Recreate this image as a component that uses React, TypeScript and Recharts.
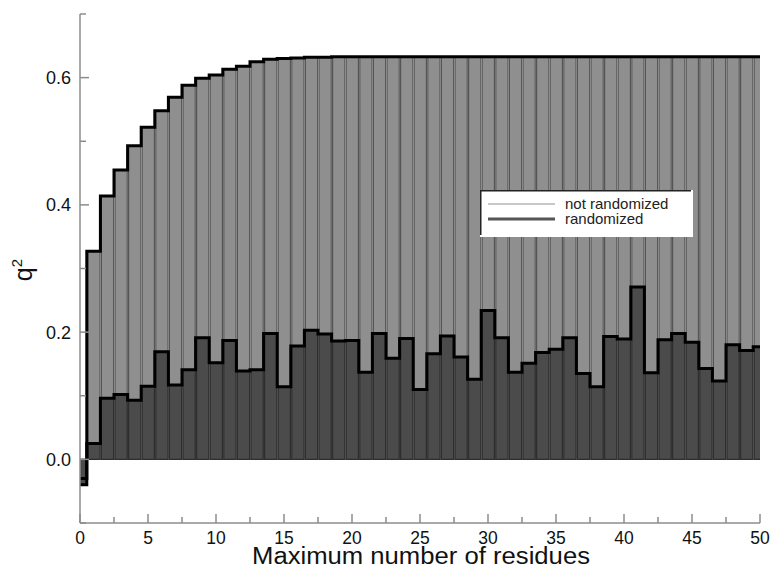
import React from 'react';
import { ComposedChart, Bar, Line, XAxis, YAxis, Legend, Label } from 'recharts';

const residues = [0,1,2,3,4,5,6,7,8,9,10,11,12,13,14,15,16,17,18,19,20,21,22,23,24,25,26,27,28,29,30,31,32,33,34,35,36,37,38,39,40,41,42,43,44,45,46,47,48,49,50];
const notRandomized = [-0.03,0.327,0.414,0.455,0.493,0.522,0.548,0.569,0.588,0.599,0.604,0.613,0.618,0.625,0.629,0.630,0.631,0.632,0.632,0.633,0.633,0.633,0.633,0.633,0.633,0.633,0.633,0.633,0.633,0.633,0.633,0.633,0.633,0.633,0.633,0.633,0.633,0.633,0.633,0.633,0.633,0.633,0.633,0.633,0.633,0.633,0.633,0.633,0.633,0.633,0.633];
const randomized = [-0.04,0.025,0.096,0.102,0.093,0.115,0.169,0.117,0.141,0.191,0.152,0.187,0.139,0.141,0.198,0.114,0.178,0.203,0.197,0.186,0.187,0.137,0.198,0.159,0.190,0.110,0.166,0.194,0.161,0.126,0.234,0.191,0.137,0.151,0.168,0.173,0.191,0.135,0.114,0.193,0.189,0.271,0.136,0.188,0.198,0.184,0.143,0.123,0.180,0.171,0.177];
const xTicks = [0,2.5,5,7.5,10,12.5,15,17.5,20,22.5,25,27.5,30,32.5,35,37.5,40,42.5,45,47.5,50];
const yTicks = [-0.1,0,0.1,0.2,0.3,0.4,0.5,0.6,0.7];
const seriesNames = ['not randomized', 'randomized'];
const xTitle = 'Maximum number of residues';

const data = residues.map((x, i) => ({ x, nr: notRandomized[i], r: randomized[i] }));

const AXIS = '#8c8c8c';
const FONT = 'Liberation Sans, Arial, sans-serif';

const isMajorX = (v: number) => Math.abs(v % 5) < 1e-6;
const isMajorY = (v: number) => Math.round(v * 10) % 2 === 0;

const BottomTick = (p: any) => {
  const v = p.payload.value;
  const major = isMajorX(v);
  return (
    <g>
      <line x1={p.x} x2={p.x} y1={p.y} y2={p.y - (major ? 9 : 6)} stroke={AXIS} strokeWidth={1.5} />
      {major && (
        <text x={p.x} y={p.y + 21} textAnchor="middle" fontFamily={FONT} fontSize={17.5} fill="#111">{v}</text>
      )}
    </g>
  );
};
const TopTick = (p: any) => {
  const v = p.payload.value;
  const major = isMajorX(v);
  return <line x1={p.x} x2={p.x} y1={p.y} y2={p.y + (major ? 9 : 6)} stroke={AXIS} strokeWidth={1.5} />;
};
const LeftTick = (p: any) => {
  const v = p.payload.value;
  const major = isMajorY(v);
  return (
    <g>
      <line x1={p.x} x2={p.x + (major ? 9 : 6)} y1={p.y} y2={p.y} stroke={AXIS} strokeWidth={1.5} />
      {major && v >= 0 && v < 0.65 && (
        <text x={p.x - 9} y={p.y + 6.5} textAnchor="end" fontFamily={FONT} fontSize={18} fill="#111">{v.toFixed(1)}</text>
      )}
    </g>
  );
};
const RightTick = (p: any) => {
  const v = p.payload.value;
  const major = isMajorY(v);
  return <line x1={p.x} x2={p.x - (major ? 8 : 5)} y1={p.y} y2={p.y} stroke={AXIS} strokeWidth={1.5} />;
};

const LegendBox = () => (
  <svg width={213} height={47} style={{ display: 'block' }}>
    <rect x={0} y={0} width={213} height={47} fill="#fff" />
    <line x1={0.75} y1={0} x2={0.75} y2={45} stroke="#222" strokeWidth={1.5} />
    <line x1={0} y1={0.75} x2={211} y2={0.75} stroke="#222" strokeWidth={1.5} />
    <line x1={8} y1={14} x2={75} y2={14} stroke="#c8c8c8" strokeWidth={2} />
    <line x1={8} y1={29} x2={75} y2={29} stroke="#555" strokeWidth={3} />
    <text x={85} y={19} fontFamily={FONT} fontSize={15} fill="#222">{seriesNames[0]}</text>
    <text x={85} y={34} fontFamily={FONT} fontSize={15} fill="#222">{seriesNames[1]}</text>
  </svg>
);

const YTitle = (p: any) => {
  const cx = 32;
  const cy = 270;
  return (
    <text x={cx} y={cy} transform={`rotate(-90, ${cx}, ${cy})`} textAnchor="middle" fontFamily={FONT} fontSize={25} fill="#111">
      q<tspan dy={-10} fontSize={15}>2</tspan>
    </text>
  );
};

export default function App() {
  return (
    <div style={{ position: 'absolute', left: 0, top: 0, width: 772, height: 568, background: '#fff' }}>
      <ComposedChart
        width={772}
        height={568}
        data={data}
        margin={{ top: 14, right: 12, left: 0, bottom: 0 }}
        barGap={0}
        barCategoryGap={0}
      >
        <XAxis
          xAxisId="bottom"
          type="number"
          dataKey="x"
          domain={[0, 50]}
          ticks={xTicks}
          interval={0}
          allowDataOverflow
          height={45}
          tickSize={0}
          tickMargin={0}
          tickLine={false}
          axisLine={{ stroke: AXIS, strokeWidth: 1.5 }}
          tick={<BottomTick />}
        >
          <Label
            content={() => (
              <text x={421} y={564} textAnchor="middle" fontFamily={FONT} fontSize={23} textLength={338} lengthAdjust="spacingAndGlyphs" fill="#111">{xTitle}</text>
            )}
          />
        </XAxis>
        <XAxis
          xAxisId="top"
          orientation="top"
          type="number"
          dataKey="x"
          domain={[0, 50]}
          ticks={xTicks}
          interval={0}
          allowDataOverflow
          height={0}
          tickSize={0}
          tickMargin={0}
          tickLine={false}
          axisLine={{ stroke: AXIS, strokeWidth: 1.5 }}
          tick={<TopTick />}
        />
        <YAxis
          yAxisId="left"
          type="number"
          domain={[-0.1, 0.7]}
          ticks={yTicks}
          interval={0}
          allowDataOverflow
          width={80}
          tickSize={0}
          tickMargin={0}
          tickLine={false}
          axisLine={{ stroke: AXIS, strokeWidth: 1.5 }}
          tick={<LeftTick />}
        >
          <Label content={<YTitle />} />
        </YAxis>
        <YAxis
          yAxisId="right"
          orientation="right"
          type="number"
          domain={[-0.1, 0.7]}
          ticks={yTicks}
          interval={0}
          allowDataOverflow
          width={0}
          tickSize={0}
          tickMargin={0}
          tickLine={false}
          axisLine={{ stroke: AXIS, strokeWidth: 1.5 }}
          tick={<RightTick />}
        />
        <Bar xAxisId="bottom" yAxisId="left" dataKey="nr" name={seriesNames[0]} fill="#8f8f8f" stroke="#555" strokeWidth={1.2} barSize={13.6} isAnimationActive={false} />
        <Bar xAxisId="top" yAxisId="left" dataKey="r" name={seriesNames[1]} fill="#4b4b4b" stroke="#2e2e2e" strokeWidth={1.2} barSize={13.6} isAnimationActive={false} />
        <Line xAxisId="bottom" yAxisId="left" type="step" dataKey="nr" stroke="#000" strokeWidth={3} dot={false} activeDot={false} isAnimationActive={false} />
        <Line xAxisId="bottom" yAxisId="left" type="step" dataKey="r" stroke="#000" strokeWidth={3} dot={false} activeDot={false} isAnimationActive={false} />
        <Legend
          layout="horizontal"
          verticalAlign="middle"
          align="center"
          content={() => <LegendBox />}
          wrapperStyle={{ position: 'absolute', left: 480, top: 190, width: 213, height: 47 }}
        />
      </ComposedChart>
    </div>
  );
}
